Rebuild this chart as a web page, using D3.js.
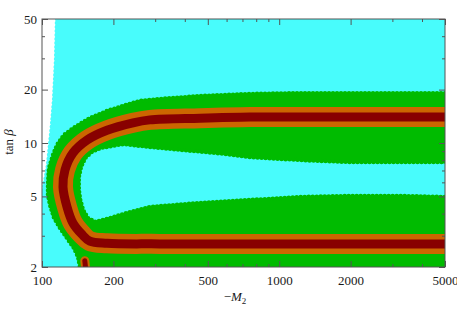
<!DOCTYPE html>
<html>
<head>
<meta charset="utf-8">
<script src="https://cdn.jsdelivr.net/npm/d3@7"></script>
<style>
body { margin: 0; background: white; }
text { font-family: "Liberation Serif", "DejaVu Serif", serif; }
</style>
</head>
<body>
<script>
// -M2 (x) and tan beta (y) values
var xTicksMajor = [100, 200, 500, 1000, 2000, 5000]
var xTicksMinor = [300, 400, 600, 700, 800, 900, 3000, 4000]
var yTicksMajor = [2, 5, 10, 20, 50]
var yTicksMinor = [3, 4, 6, 7, 8, 9, 30, 40]

// region covered by the scan points (cyan)
var cyanRegion = [[115.7,50],[114.6,29.4],[112.4,17.5],[110.2,12.6],[108.1,9.75],[106,7.5],
  [103,6.03],[101,5.16],[100,4.9],[100,2],[5000,2],[5000,50]]

// green band, outer edge then inner edge
var greenBand = [[5000,19.1],[3230,19.1],[1989,19.1],[1224,19.1],[753,18.9],[464,18.4],[314,17.7],
  [259,17.25],[220,16.2],[188,15.15],[159,13.8],[137.7,12.3],[123.8,11.1],[115.7,9.75],[111.3,8.56],
  [107,7.23],[106,5.95],[106,5.09],[108.1,4.47],[112.4,3.78],[119.1,3.32],[127.5,2.91],[136.4,2.56],
  [141.9,2.28],[144.6,2],[5000,2],[5000,4.96],[3230,5.03],[1989,5.03],[1224,4.96],[753,4.77],
  [464,4.59],[285,4.36],[228,4.03],[188,3.73],[167,3.59],[156,3.78],[149,4.19],[145,4.77],
  [143,5.43],[143,6.43],[146,7.32],[152,8.23],[162,8.9],[176,9.37],[220,9.87],[285,9.5],
  [393,9.13],[547,8.78],[753,8.34],[1224,8.02],[1989,7.81],[3230,7.81],[5000,7.81]]

// centre of the orange / dark red band
var coreLine = [[5000,14],[3230,14],[1224,14],[753,14],[464,13.8],[285,13.5],[242,13],[188,11.8],
  [155,10.4],[135,8.78],[125,7.05],[122.6,5.65],[127.5,4.36],[135,3.54],[147.5,3.05],[159,2.8],
  [188,2.72],[314,2.7],[1224,2.7],[5000,2.7]]
var coreTail = [[152.5,2],[151.5,2.17]]

var szer = 457, wys = 311
var lewo = 42, prawo = 445, gora = 19, dol = 267

var obrazek = d3.select("body").append("svg")
  .attr("width", szer)
  .attr("height", wys)

var x = d3.scaleLog().domain([100, 5000]).range([lewo, prawo])
var y = d3.scaleLog().domain([2, 50]).range([dol, gora])

obrazek.append("clipPath").attr("id", "obszar")
  .append("rect").attr("x", lewo).attr("y", gora).attr("width", prawo - lewo).attr("height", dol - gora)

var wykres = obrazek.append("g").attr("clip-path", "url(#obszar)")

var wielokat = d3.line().x(function(d){ return x(d[0]) }).y(function(d){ return y(d[1]) })
var krzywa = d3.line().x(function(d){ return x(d[0]) }).y(function(d){ return y(d[1]) })
  .curve(d3.curveCatmullRom)

// filled region plus a dotted rim so the edge looks like scattered points
function obszar(dane, kolor) {
  wykres.append("path").attr("d", wielokat(dane) + "Z")
    .style("fill", kolor).style("stroke", kolor).style("stroke-width", 2)
    .style("stroke-linejoin", "round")
  wykres.append("path").attr("d", wielokat(dane) + "Z")
    .style("fill", "none").style("stroke", kolor).style("stroke-width", 4.5)
    .style("stroke-linecap", "round").style("stroke-dasharray", "0 4")
}

obszar(cyanRegion, "#48fcfc")
obszar(greenBand, "#00bb00")

wykres.append("path").attr("d", krzywa(coreLine))
  .style("fill", "none").style("stroke", "#cc6600").style("stroke-width", 20)
  .style("stroke-linejoin", "round")
wykres.append("path").attr("d", krzywa(coreTail))
  .style("fill", "none").style("stroke", "#cc6600").style("stroke-width", 9)
  .style("stroke-linecap", "round")

wykres.append("path").attr("d", krzywa(coreLine))
  .style("fill", "none").style("stroke", "#880000").style("stroke-width", 9)
  .style("stroke-linejoin", "round")
wykres.append("path").attr("d", krzywa(coreTail))
  .style("fill", "none").style("stroke", "#880000").style("stroke-width", 5)
  .style("stroke-linecap", "round")

// frame and ticks
var kolorRamki = "#555"

obrazek.append("g").attr("transform", "translate(0," + dol + ")")
  .call(d3.axisBottom(x).tickValues(xTicksMajor).tickSize(-6).tickSizeOuter(0).tickPadding(9).tickFormat(d3.format("d")))
obrazek.append("g").attr("transform", "translate(0," + dol + ")")
  .call(d3.axisBottom(x).tickValues(xTicksMinor).tickSize(-3).tickSizeOuter(0).tickFormat(""))
obrazek.append("g").attr("transform", "translate(0," + gora + ")")
  .call(d3.axisTop(x).tickValues(xTicksMajor).tickSize(-6).tickSizeOuter(0).tickFormat(""))
obrazek.append("g").attr("transform", "translate(0," + gora + ")")
  .call(d3.axisTop(x).tickValues(xTicksMinor).tickSize(-3).tickSizeOuter(0).tickFormat(""))

obrazek.append("g").attr("transform", "translate(" + lewo + ",0)")
  .call(d3.axisLeft(y).tickValues(yTicksMajor).tickSize(-6).tickSizeOuter(0).tickPadding(5).tickFormat(d3.format("d")))
obrazek.append("g").attr("transform", "translate(" + lewo + ",0)")
  .call(d3.axisLeft(y).tickValues(yTicksMinor).tickSize(-3).tickSizeOuter(0).tickFormat(""))
obrazek.append("g").attr("transform", "translate(" + prawo + ",0)")
  .call(d3.axisRight(y).tickValues(yTicksMajor).tickSize(-6).tickSizeOuter(0).tickFormat(""))
obrazek.append("g").attr("transform", "translate(" + prawo + ",0)")
  .call(d3.axisRight(y).tickValues(yTicksMinor).tickSize(-3).tickSizeOuter(0).tickFormat(""))

obrazek.selectAll(".domain").remove()
obrazek.selectAll(".tick line").style("stroke", kolorRamki)
obrazek.selectAll(".tick text").style("font-family", "Liberation Serif").style("font-size", "13px").style("fill", "#1a1a1a")

obrazek.append("rect").attr("x", lewo).attr("y", gora).attr("width", prawo - lewo).attr("height", dol - gora)
  .style("fill", "none").style("stroke", kolorRamki).style("stroke-width", 1)

// axis titles
var tytulY = obrazek.append("text")
  .attr("transform", "translate(13,142) rotate(-90)")
  .attr("text-anchor", "middle")
  .style("font-size", "13px").style("fill", "#1a1a1a")
tytulY.append("tspan").text("tan ")
tytulY.append("tspan").style("font-style", "italic").text("β")

var tytulX = obrazek.append("text")
  .attr("x", 235).attr("y", 301)
  .attr("text-anchor", "middle")
  .style("font-size", "13px").style("fill", "#1a1a1a")
tytulX.append("tspan").text("\u2212")
tytulX.append("tspan").style("font-style", "italic").text("M")
tytulX.append("tspan").attr("dy", 3).style("font-size", "9px").text("2")
</script>
</body>
</html>
